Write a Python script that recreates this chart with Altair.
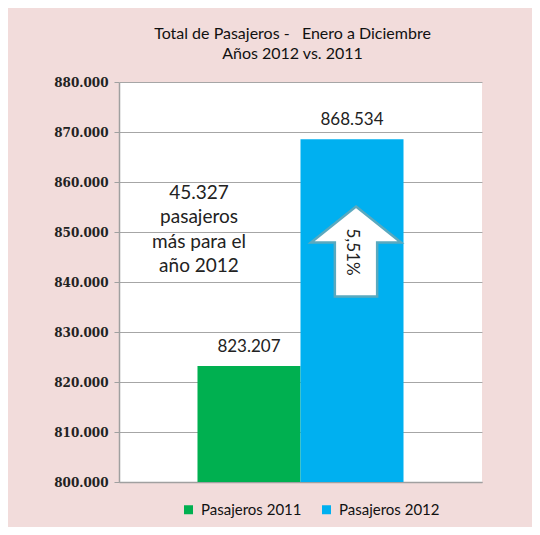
import altair as alt
import pandas as pd

series = ["Pasajeros 2011", "Pasajeros 2012"]
values = [823207, 868534]
colors = ["#00b050", "#00b0f0"]
title_lines = ["Total de Pasajeros -\u00a0\u00a0\u00a0Enero a Diciembre", "Años 2012 vs. 2011"]
note_lines = ["45.327", "pasajeros", "más para el", "año 2012"]
note_y = [857800, 853000, 848000, 843200]
pct_text = "5,51%"
arrow_y = 846100
pct_y = 846400

bars_df = pd.DataFrame({"serie": series, "valor": values})
note_df = pd.DataFrame({"serie": [series[0]] * len(note_lines), "txt": note_lines, "y": note_y})
arrow_df = pd.DataFrame({"serie": [series[1]], "y": [arrow_y], "txt": [pct_text], "ty": [pct_y]})

FONT = "Lato"
xscale = alt.Scale(domain=series, paddingOuter=0.762, paddingInner=0)
yscale = alt.Scale(domain=[800000, 880000], nice=False, zero=False)

x_enc = alt.X("serie:N", scale=xscale,
              axis=alt.Axis(labels=False, ticks=False, title=None, domain=True,
                            domainColor="#a0a0a0", domainWidth=1.5, grid=False))

bars = alt.Chart(bars_df).mark_bar(clip=True).encode(
    x=x_enc,
    y=alt.Y("valor:Q", scale=yscale,
            axis=alt.Axis(values=list(range(800000, 880001, 10000)), title=None,
                          labelExpr="replace(format(datum.value, ','), ',', '.')",
                          labelFont="DejaVu Serif", labelFontWeight="bold", labelFontSize=12,
                          labelColor="#222222", labelPadding=6,
                          tickColor="#a0a0a0", tickSize=5, domainColor="#a0a0a0", domainWidth=1.5,
                          gridColor="#a6a6a6", gridWidth=1)),
    color=alt.Color("serie:N", scale=alt.Scale(domain=series, range=colors),
                    legend=alt.Legend(title=None, orient="none", direction="horizontal",
                                      legendX=62, legendY=420, symbolType="square",
                                      symbolSize=81, symbolStrokeWidth=0,
                                      labelFont=FONT, labelFontSize=15, labelColor="#111111",
                                      labelOffset=5, columnPadding=17)),
)

labels = alt.Chart(bars_df).mark_text(font=FONT, fontSize=17, color="#222222",
                                      baseline="bottom", dy=-10).encode(
    x=alt.X("serie:N", scale=xscale),
    y=alt.Y("valor:Q", scale=yscale),
    text=alt.Text("txt:N"),
).transform_calculate(txt="replace(format(datum.valor, ','), ',', '.')")

note = alt.Chart(note_df).mark_text(font=FONT, fontSize=19, color="#222222", dx=-50).encode(
    x=alt.X("serie:N", scale=xscale),
    y=alt.Y("y:Q", scale=yscale),
    text="txt:N",
)

arrow_path = "M0,-1 L1,-0.2 L0.47,-0.2 L0.47,1 L-0.47,1 L-0.47,-0.2 L-1,-0.2 Z"
arrow = alt.Chart(arrow_df).mark_point(shape=arrow_path, filled=True, fill="white",
                                       stroke="#5aa9bf", strokeWidth=2.5, size=8100,
                                       opacity=1, xOffset=4).encode(
    x=alt.X("serie:N", scale=xscale),
    y=alt.Y("y:Q", scale=yscale),
)

pct = alt.Chart(arrow_df).mark_text(font=FONT, fontSize=17, color="#222222", angle=90,
                                    dx=2).encode(
    x=alt.X("serie:N", scale=xscale),
    y=alt.Y("ty:Q", scale=yscale),
    text="txt:N",
)

chart = alt.layer(bars, labels, note, arrow, pct).properties(
    width=363, height=400,
    autosize=alt.AutoSizeParams(type="none"),
    padding={"left": 111, "top": 74, "right": 50, "bottom": 45},
    background="#f2dcdb",
    title=alt.Title(title_lines, font=FONT, fontSize=16, fontWeight="normal", color="#111111",
                    anchor="middle", dx=-8, offset=14, lineHeight=20),
).configure_view(fill="white", stroke=None)

chart.save("out.html", embed_options={"renderer": "svg", "actions": False})
